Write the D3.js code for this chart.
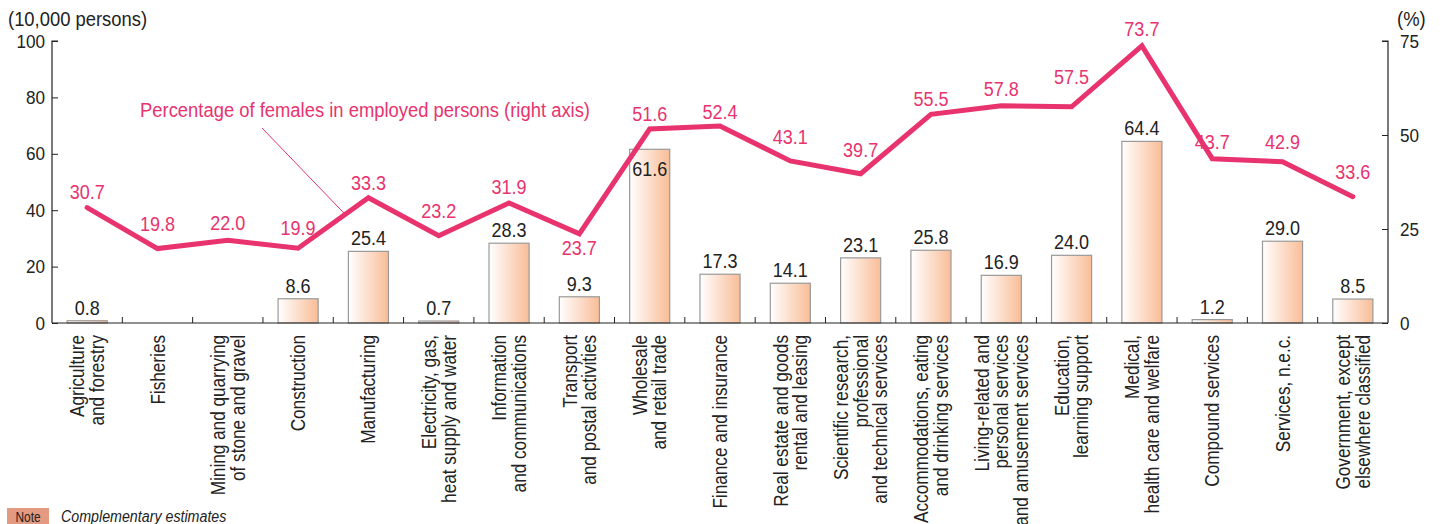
<!DOCTYPE html>
<html>
<head>
<meta charset="utf-8">
<script src="https://cdn.jsdelivr.net/npm/d3@7"></script>
<style>
  body { margin: 0; background: #fff; }
  svg { display: block; font-family: "Liberation Sans", Arial, sans-serif; }
</style>
</head>
<body>
<svg id="chart" width="1442" height="524"></svg>
<script>
// industries, bar = employed females (10,000 persons), line = share of females (%)
const categories = [
    "Agriculture\nand forestry",
    "Fisheries",
    "Mining and quarrying\nof stone and gravel",
    "Construction",
    "Manufacturing",
    "Electricity, gas,\nheat supply and water",
    "Information\nand communications",
    "Transport\nand postal activities",
    "Wholesale\nand retail trade",
    "Finance and insurance",
    "Real estate and goods\nrental and leasing",
    "Scientific research,\nprofessional\nand technical services",
    "Accommodations, eating\nand drinking services",
    "Living-related and\npersonal services\nand amusement services",
    "Education,\nlearning support",
    "Medical,\nhealth care and welfare",
    "Compound services",
    "Services, n.e.c.",
    "Government, except\nelsewhere classified"
];
const employed = [0.8, null, null, 8.6, 25.4, 0.7, 28.3, 9.3, 61.6, 17.3, 14.1, 23.1, 25.8, 16.9, 24.0, 64.4, 1.2, 29.0, 8.5];
const femaleShare = [30.7, 19.8, 22.0, 19.9, 33.3, 23.2, 31.9, 23.7, 51.6, 52.4, 43.1, 39.7, 55.5, 57.8, 57.5, 73.7, 43.7, 42.9, 33.6];
const leftTicks = [0, 20, 40, 60, 80, 100];
const rightTicks = [0, 25, 50, 75];

// how far each % label sits above its point (negative = below), to dodge the line
const shareLabelLift = [16, 25, 17, 20, 15, 25, 16, -14, 15, 14, 24, 24, 15, 17, 30, 17, 17, 20, 25];

const pink = "#e8336e";
const ink = "#222";
const margin = { top: 41, right: 54, bottom: 201, left: 52 };
const width = 1442, height = 524;

// squeeze glyphs to look like a condensed face
function condense(sel, k) {
    sel.each(function () {
        const w = this.getComputedTextLength();
        d3.select(this).attr("textLength", w * k).attr("lengthAdjust", "spacingAndGlyphs");
    });
}

const svg = d3.select("#chart");
const x = d3.scaleBand().domain(d3.range(categories.length))
    .range([margin.left, width - margin.right]).paddingInner(0.43).paddingOuter(0.215);
const xEdge = d3.scaleLinear().domain([0, categories.length])
    .range([margin.left, width - margin.right]);
const yL = d3.scaleLinear().domain([0, 100]).range([height - margin.bottom, margin.top]);
const yR = d3.scaleLinear().domain([0, 75]).range([height - margin.bottom, margin.top]);
const cx = i => x(i) + x.bandwidth() / 2;

const grad = svg.append("defs").append("linearGradient").attr("id", "barFill");
grad.append("stop").attr("offset", "0%").attr("stop-color", "#ffffff");
grad.append("stop").attr("offset", "100%").attr("stop-color", "#f9bd97");

const barData = employed.map((v, i) => ({ v, i }));

// bars
svg.append("g").selectAll("rect")
    .data(barData)
    .join("rect")
    .attr("x", d => x(d.i))
    .attr("width", x.bandwidth())
    .attr("y", d => yL(d.v || 0))
    .attr("height", d => yL(0) - yL(d.v || 0))
    .attr("fill", "url(#barFill)")
    .attr("stroke", "#9a9a9a")
    .attr("stroke-width", 1.2);

// left axis
const gL = svg.append("g").attr("transform", `translate(${margin.left},0)`)
    .call(d3.axisRight(yL).tickValues(leftTicks).tickSize(6).tickFormat(d3.format("d")));
gL.select(".domain").attr("d", `M6,${yL(100)}H0V${yL(0)}`);
gL.selectAll(".tick line").attr("stroke", ink);
gL.selectAll(".tick text").attr("x", -7).attr("text-anchor", "end")
    .attr("font-size", 19).attr("fill", ink).call(condense, 0.9);

// right axis
const gR = svg.append("g").attr("transform", `translate(${width - margin.right},0)`)
    .call(d3.axisLeft(yR).tickValues(rightTicks).tickSize(6));
gR.select(".domain").attr("d", `M-6,${yR(75)}H0V${yR(0)}`);
gR.selectAll(".tick line").attr("stroke", ink);
gR.selectAll(".tick text").attr("x", 12).attr("text-anchor", "start")
    .attr("font-size", 19).attr("fill", ink).call(condense, 0.9);
svg.selectAll(".domain").attr("stroke", ink).attr("stroke-width", 1.2);

// baseline and category separators
const base = svg.append("g");
base.append("line")
    .attr("x1", margin.left).attr("x2", width - margin.right)
    .attr("y1", yL(0)).attr("y2", yL(0))
    .attr("stroke", ink).attr("stroke-width", 1.2);
base.selectAll("line.sep")
    .data(d3.range(1, categories.length))
    .join("line").attr("class", "sep")
    .attr("x1", d => xEdge(d)).attr("x2", d => xEdge(d))
    .attr("y1", yL(0)).attr("y2", yL(0) - 6)
    .attr("stroke", ink).attr("stroke-width", 1);

// axis titles
svg.append("text").attr("x", 8).attr("y", 26).attr("font-size", 20).attr("fill", ink)
    .text("(10,000 persons)").call(condense, 0.92);
svg.append("text").attr("x", 1397).attr("y", 26).attr("font-size", 20).attr("fill", ink)
    .text("(%)").call(condense, 0.92);

// category labels, rotated
const catG = svg.append("g").selectAll("g")
    .data(categories)
    .join("g")
    .attr("transform", (d, i) => `translate(${cx(i)},${yL(0) + 12}) rotate(-90)`);
catG.each(function (d) {
    const lines = d.split("\n");
    const lh = 19.5;
    d3.select(this).selectAll("text")
        .data(lines)
        .join("text")
        .attr("text-anchor", "end")
        .attr("x", 0)
        .attr("y", (t, j) => (j - (lines.length - 1) / 2) * lh)
        .attr("dy", "0.36em")
        .attr("font-size", 19.5)
        .attr("fill", ink)
        .text(t => t)
        .call(condense, 0.88);
});

// bar value labels
const insideLabel = new Set([8]);
svg.append("g").selectAll("text")
    .data(barData.filter(d => d.v != null))
    .join("text")
    .attr("x", d => cx(d.i))
    .attr("y", d => insideLabel.has(d.i) ? yL(d.v) + 27 : yL(d.v) - 6)
    .attr("text-anchor", "middle")
    .attr("font-size", 20)
    .attr("fill", ink)
    .text(d => d.v.toFixed(1))
    .call(condense, 0.9);

// female share line
const line = d3.line().x((d, i) => cx(i)).y(d => yR(d));
svg.append("path")
    .datum(femaleShare)
    .attr("d", line)
    .attr("fill", "none")
    .attr("stroke", pink)
    .attr("stroke-width", 5)
    .attr("stroke-linejoin", "miter")
    .attr("stroke-linecap", "round");

svg.append("g").selectAll("text")
    .data(femaleShare)
    .join("text")
    .attr("x", (d, i) => cx(i))
    .attr("y", (d, i) => yR(d) - shareLabelLift[i] + 7)
    .attr("text-anchor", "middle")
    .attr("font-size", 20)
    .attr("fill", pink)
    .text(d => d.toFixed(1))
    .call(condense, 0.9);

// annotation with leader line onto the curve between Construction and Manufacturing
const t = 0.67;
const ax = cx(3) + (cx(4) - cx(3)) * t;
const ay = yR(femaleShare[3]) + (yR(femaleShare[4]) - yR(femaleShare[3])) * t;
svg.append("line")
    .attr("x1", 262).attr("y1", 128).attr("x2", ax).attr("y2", ay)
    .attr("stroke", pink).attr("stroke-width", 1);
svg.append("text").attr("x", 140).attr("y", 117)
    .attr("font-size", 20).attr("fill", pink)
    .text("Percentage of females in employed persons (right axis)")
    .call(condense, 0.92);

// note
svg.append("rect").attr("x", 7).attr("y", 508).attr("width", 42).attr("height", 18)
    .attr("fill", "#e39a80");
svg.append("text").attr("x", 28).attr("y", 522).attr("text-anchor", "middle")
    .attr("font-size", 14).attr("fill", ink).text("Note").call(condense, 0.85);
svg.append("text").attr("x", 61).attr("y", 522)
    .attr("font-size", 16).attr("font-style", "italic").attr("fill", ink)
    .text("Complementary estimates").call(condense, 0.89);
</script>
</body>
</html>
